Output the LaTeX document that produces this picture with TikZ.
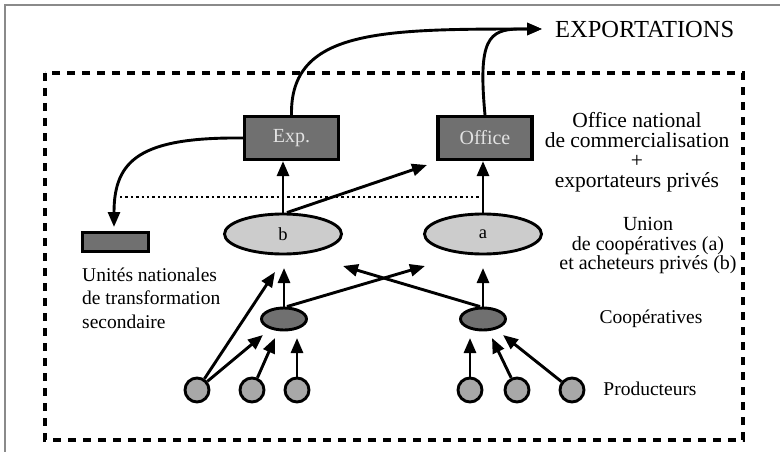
\documentclass[tikz,border=0pt]{standalone}
\usepackage{fontspec}
\setmainfont{Liberation Serif}
\usetikzlibrary{arrows.meta,shapes.geometric}
\definecolor{boxgray}{HTML}{707070}
\definecolor{lightell}{HTML}{CCCCCC}
\definecolor{prodgray}{HTML}{A8A8A8}
\definecolor{framegray}{HTML}{8A8A8A}
\definecolor{boxtext}{HTML}{E2E2E2}
\begin{document}
\begin{tikzpicture}[x=1pt,y=-1pt,
  arr/.style={line width=2.9pt,-{Triangle[length=15pt,width=12pt]}},
  darkbox/.style={draw,line width=3.2pt,fill=boxgray,text=boxtext,
    font=\fontsize{20}{21}\selectfont,minimum width=94pt,minimum height=43pt,inner sep=0pt},
  smallbox/.style={draw,line width=3.2pt,fill=boxgray,minimum width=66pt,minimum height=19pt,inner sep=0pt},
  unionell/.style={ellipse,draw,line width=2.9pt,fill=lightell,minimum width=117pt,minimum height=40pt,
    inner sep=0pt,font=\fontsize{18.5}{20}\selectfont},
  coopell/.style={ellipse,draw,line width=2.9pt,fill=boxgray,minimum width=45pt,minimum height=22pt,inner sep=0pt},
  prod/.style={circle,draw,line width=2.9pt,fill=prodgray,minimum size=24pt,inner sep=0pt},
  lab/.style={inner sep=0pt,align=center},
]
\useasboundingbox (0,0) rectangle (780,452);
% outer frame
\draw[framegray,line width=1.6pt] (5,452) -- (5,5) -- (780,5);
% dashed frame
\draw[line width=3.2pt,dash pattern=on 8pt off 7pt] (45,73) rectangle (743,440);

% nodes
\node[darkbox] (exp) at (291.5,138) {Exp.};
\node[darkbox] (office) at (485,138) {Office};
\node[smallbox] (unt) at (115.5,242) {};
\node[unionell] (b) at (283,234) {b};
\node[unionell] (a) at (483,234) {a};
\node[coopell] (cl) at (284,319) {};
\node[coopell] (cr) at (483,319) {};
\node[prod] (p1) at (197,390) {};
\node[prod] (p2) at (252,390) {};
\node[prod] (p3) at (297,390) {};
\node[prod] (p4) at (470,390) {};
\node[prod] (p5) at (517,390) {};
\node[prod] (p6) at (572,390) {};

% labels
\node[lab,anchor=base west,font=\fontsize{24.5}{26}\selectfont] (lexport) at (555,38) {EXPORTATIONS};
\node[lab,font=\fontsize{21.5}{20}\selectfont] (loffice) at (637,152) {Office national\\de commercialisation\\+\\exportateurs privés};
\node[lab,font=\fontsize{20}{19.5}\selectfont] (lunion) at (648,246) {Union\\de coopératives (a)\\et acheteurs privés (b)};
\node[lab,font=\fontsize{19.5}{21}\selectfont] (lcoop) at (651,319) {Coopératives};
\node[lab,font=\fontsize{19.5}{21}\selectfont] (lprod) at (650,389) {Producteurs};
\node[lab,anchor=west,align=left,font=\fontsize{19.5}{23.5}\selectfont] (lunt) at (82,298) {Unités nationales\\de transformation\\secondaire};

% coordinates
\coordinate (tipE) at (542,29);
\coordinate (tipU) at (114,227);
\coordinate (d1) at (120,197);
\coordinate (d2) at (480,197);
\coordinate (tbo) at (427,165);
\coordinate (tclb) at (284,268);
\coordinate (tcla) at (425,266);
\coordinate (tcrb) at (343,266);
\coordinate (tcra) at (483,268);
\coordinate (t1a) at (275,272);
\coordinate (t1b) at (263,335);
\coordinate (t2) at (275,338);
\coordinate (t3) at (297,338);
\coordinate (t4) at (470,338);
\coordinate (t5) at (492,338);
\coordinate (t6) at (503,335);

% dotted line
\draw[line width=2.4pt,dash pattern=on 2.4pt off 3pt] (d1) -- (d2);

% curves
\draw[arr] (exp.north) .. controls (290,30) and (380,29) .. (tipE);
\draw[arr] (office.north) .. controls (478,40) and (488,29) .. (520,29) -- (tipE);
\draw[arr] (exp.west) .. controls (140,137) and (114,160) .. (tipU);

% straight arrows
\draw[arr] (b.north) -- (b.north |- exp.south);
\draw[arr] ([xshift=4pt]b.north) -- (tbo);
\draw[arr] (a.north) -- (a.north |- office.south);
\draw[arr] (cl.north) -- (tclb);
\draw[arr] ([xshift=3pt]cl.north) -- (tcla);
\draw[arr] (cr.north) -- (tcra);
\draw[arr] ([xshift=-3pt]cr.north) -- (tcrb);
\draw[arr] (p1) -- (t1a);
\draw[arr] (p1) -- (t1b);
\draw[arr] (p2) -- (t2);
\draw[arr] (p3) -- (t3);
\draw[arr] (p4) -- (t4);
\draw[arr] (p5) -- (t5);
\draw[arr] (p6) -- (t6);
\end{tikzpicture}
\end{document}
